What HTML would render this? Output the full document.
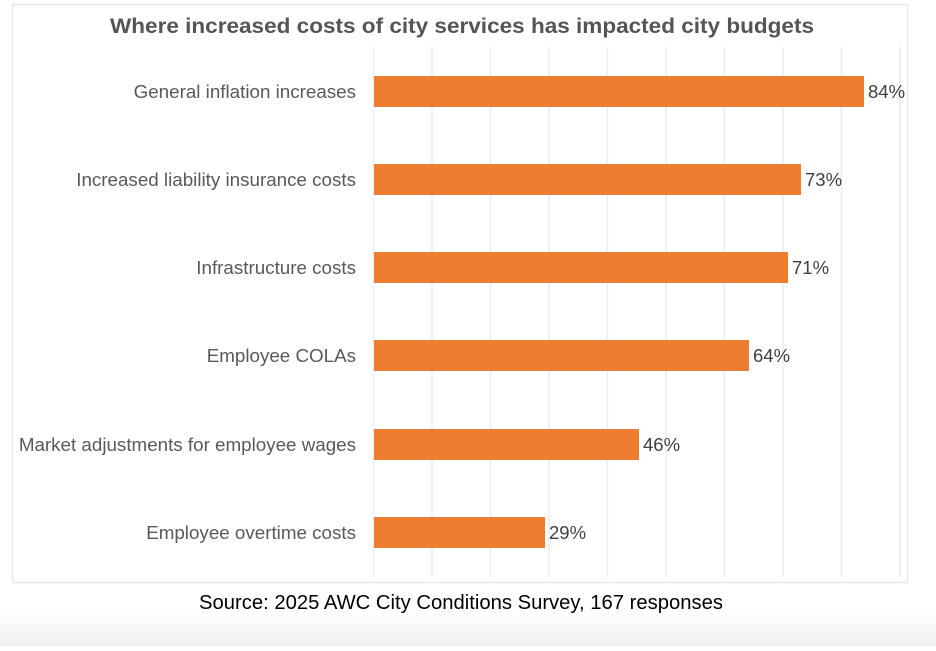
<!DOCTYPE html>
<html><head><style>
body{margin:0;width:936px;height:646px;overflow:hidden;background:#fff;font-family:"Liberation Sans",Arial,sans-serif;}
</style></head><body>
<svg width="936" height="646" xmlns="http://www.w3.org/2000/svg">
<defs><linearGradient id="g" x1="0" y1="0" x2="0" y2="1"><stop offset="0" stop-color="#fff"/><stop offset="1" stop-color="#f0f0f0"/></linearGradient></defs>
<rect x="0" y="610" width="936" height="36" fill="url(#g)"/>
<rect x="12.5" y="4.5" width="895" height="578" fill="#fff" stroke="#e8e8e8" stroke-width="1.5"/>
<g stroke="#ececec" stroke-width="1.5">
<line x1="373.5" y1="47" x2="373.5" y2="577"/>
<line x1="432" y1="47" x2="432" y2="577"/>
<line x1="490.5" y1="47" x2="490.5" y2="577"/>
<line x1="549" y1="47" x2="549" y2="577"/>
<line x1="607.5" y1="47" x2="607.5" y2="577"/>
<line x1="666" y1="47" x2="666" y2="577"/>
<line x1="724.5" y1="47" x2="724.5" y2="577"/>
<line x1="783" y1="47" x2="783" y2="577"/>
<line x1="841.5" y1="47" x2="841.5" y2="577"/>
<line x1="900" y1="47" x2="900" y2="577"/>
</g>
<text x="110" y="33" font-size="21" font-weight="bold" fill="#555" textLength="704" lengthAdjust="spacingAndGlyphs">Where increased costs of city services has impacted city budgets</text>
<g fill="#ED7D31">
<rect x="374" y="76" width="490" height="31"/>
<rect x="374" y="164" width="427" height="31"/>
<rect x="374" y="252" width="414" height="31"/>
<rect x="374" y="340" width="375" height="31"/>
<rect x="374" y="429" width="265" height="31"/>
<rect x="374" y="517" width="171" height="31"/>
</g>
<g font-size="18.8" fill="#595959" text-anchor="end">
<text x="356" y="98">General inflation increases</text>
<text x="356" y="186">Increased liability insurance costs</text>
<text x="356" y="274">Infrastructure costs</text>
<text x="356" y="362">Employee COLAs</text>
<text x="356" y="451">Market adjustments for employee wages</text>
<text x="356" y="539">Employee overtime costs</text>
</g>
<g font-size="18.5" fill="#404040">
<text x="868" y="98">84%</text>
<text x="805" y="186">73%</text>
<text x="792" y="274">71%</text>
<text x="753" y="362">64%</text>
<text x="643" y="451">46%</text>
<text x="549" y="539">29%</text>
</g>
<text x="199" y="609" font-size="20" fill="#000" textLength="524" lengthAdjust="spacingAndGlyphs">Source: 2025 AWC City Conditions Survey, 167 responses</text>
</svg>
</body></html>
